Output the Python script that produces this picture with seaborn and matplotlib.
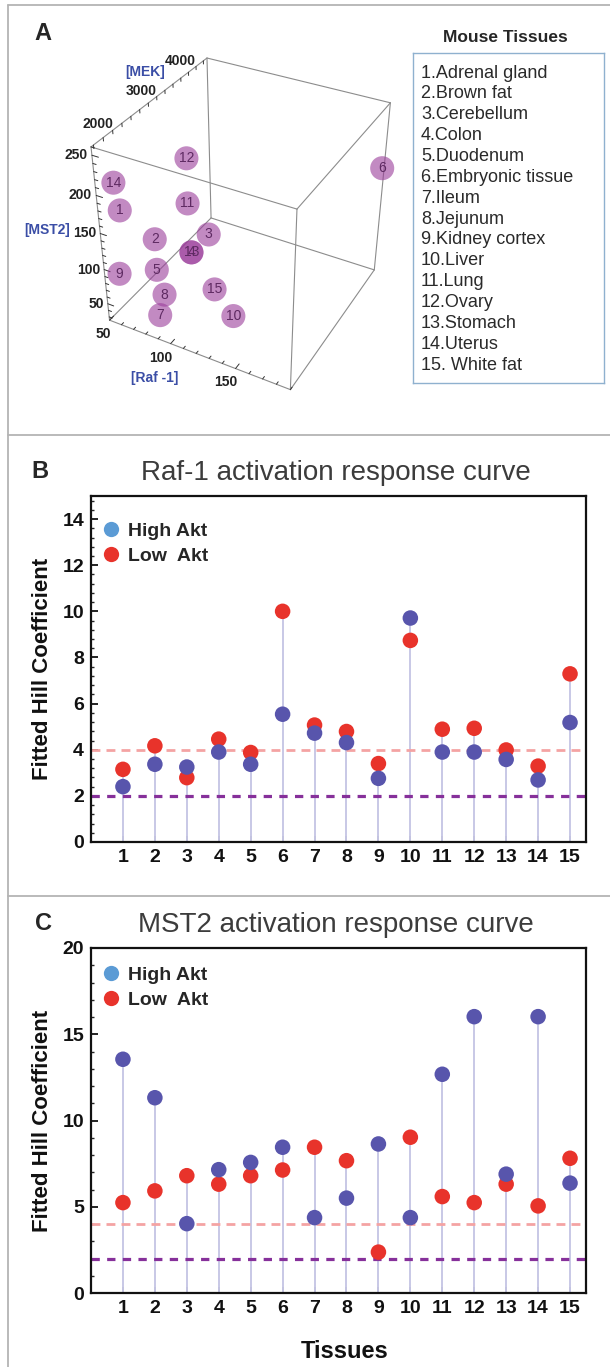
import itertools
import numpy as np
import pandas as pd
import matplotlib
matplotlib.use("Agg")
import matplotlib.pyplot as plt
import seaborn as sns
from matplotlib.ticker import MultipleLocator, FixedLocator
from matplotlib.lines import Line2D
from mpl_toolkits.mplot3d import proj3d

# ---------------- data ----------------
tissue_ids = list(range(1, 16))
tissue_names = ["Adrenal gland", "Brown fat", "Cerebellum", "Colon", "Duodenum",
                "Embryonic tissue", "Ileum", "Jejunum", "Kidney cortex", "Liver",
                "Lung", "Ovary", "Stomach", "Uterus", " White fat"]

# panel A: protein concentrations (estimated)
raf1_conc = [62, 78, 107, 102, 78, 189, 88, 88, 57, 141, 96, 92, 102, 59, 123]
mst2_conc = [180, 136, 137, 125, 93, 175, 50, 72, 90, 77, 180, 229, 125, 214, 94]
mek_conc = [1590, 1860, 2270, 1990, 1860, 4180, 1590, 1720, 1590, 1720, 2130, 2270, 1990, 1590, 1860]
raf1_ticks = [50, 100, 150]
mst2_ticks = [50, 100, 150, 200, 250]
mek_ticks = [2000, 3000, 4000]

# panel B: Raf-1 activation response curve
raf_high = [2.40, 3.37, 3.25, 3.90, 3.37, 5.54, 4.72, 4.31, 2.76, 9.71, 3.90, 3.90, 3.58, 2.69, 5.18]
raf_low = [3.15, 4.17, 2.79, 4.46, 3.88, 10.0, 5.07, 4.79, 3.40, 8.74, 4.89, 4.93, 3.99, 3.29, 7.29]

# panel C: MST2 activation response curve
mst2_high = [13.55, 11.32, 4.02, 7.15, 7.57, 8.45, 4.37, 5.50, 8.64, 4.37, 12.68, 16.02, 6.89, 16.02, 6.37]
mst2_low = [5.24, 5.92, 6.80, 6.31, 6.80, 7.13, 8.45, 7.67, 2.37, 9.03, 5.59, 5.24, 6.31, 5.05, 7.81]

ref_lines = [4, 2]

# ---------------- style ----------------
sns.set_theme(style="white")
plt.rcParams["font.family"] = ["Liberation Sans", "DejaVu Sans"]

W, H = 610, 1367
fig = plt.figure(figsize=(W / 100, H / 100), dpi=100)
fig.patch.set_facecolor("white")


def fx(px):
    return px / W


def fy(py):
    return 1 - py / H


# panel frame lines
for (x0, y0, x1, y1) in [(8, 5, 8, H), (8, 5, W, 5), (8, 435, W, 435), (8, 896, W, 896)]:
    fig.add_artist(Line2D([fx(x0), fx(x1)], [fy(y0), fy(y1)], transform=fig.transFigure,
                          color="#b4b4b4", lw=1.3))

# ---------------- panel A ----------------
ax3 = fig.add_axes([0.0443, 0.679, 0.70, 0.32], projection="3d", computed_zorder=False)
ax3.set_proj_type("persp", focal_length=0.42)
ax3.view_init(elev=35, azim=-61.5)
xlo, xhi = 50, 190
ylo, yhi = 1450, 4200
zlo, zhi = 25, 260
ax3.set_xlim(xlo, xhi)
ax3.set_ylim(ylo, yhi)
ax3.set_zlim(zlo, zhi)
ax3.set_box_aspect((1, 1, 1.0), zoom=0.815)
ax3.set_axis_off()
ax3.set_facecolor("none")

corners = list(itertools.product([xlo, xhi], [ylo, yhi], [zlo, zhi]))
for a, b in itertools.combinations(corners, 2):
    if sum(u != v for u, v in zip(a, b)) == 1:
        ax3.plot([a[0], b[0]], [a[1], b[1]], [a[2], b[2]], color="#8c8c8c", lw=0.8, zorder=1)

# ticks on the box edges
xr, yr, zr = xhi - xlo, yhi - ylo, zhi - zlo
for z in range(30, 261, 10):
    L = 0.035 if z % 50 == 0 else 0.018
    ax3.plot([xlo, xlo + L * xr], [ylo, ylo], [z, z], color="#333333", lw=0.7, zorder=1)
for y in range(1500, 4201, 200):
    L = 0.035 if y % 1000 == 0 else 0.018
    ax3.plot([xlo, xlo], [y, y], [zhi, zhi - L * zr], color="#333333", lw=0.7, zorder=1)
for x in range(50, 191, 10):
    L = 0.035 if x % 50 == 0 else 0.018
    ax3.plot([x, x], [ylo, ylo + L * yr], [zlo, zlo], color="#333333", lw=0.7, zorder=1)

ax3.scatter(raf1_conc, mek_conc, mst2_conc, s=300, color="#9a3c9a", alpha=0.6,
            edgecolors="none", depthshade=False, zorder=3)

# texts placed at the library's own projection of the 3D points
M = ax3.get_proj()


def proj(x, y, z):
    xs, ys, _ = proj3d.proj_transform(np.atleast_1d(x), np.atleast_1d(y), np.atleast_1d(z), M)
    return float(xs[0]), float(ys[0])


tick_kw = dict(fontsize=10, fontweight="bold", color="#222222", textcoords="offset points",
               annotation_clip=False, zorder=5)
for z in mst2_ticks:
    ax3.annotate(f"{z}", xy=proj(xlo, ylo, z), xytext=(-3, 0), ha="right", va="center", **tick_kw)
for y in mek_ticks:
    ax3.annotate(f"{y}", xy=proj(xlo, y, zhi), xytext=(-3, 2), ha="right", va="center", **tick_kw)
for x in raf1_ticks:
    ax3.annotate(f"{x}", xy=proj(x, ylo, zlo), xytext=(1, -5), ha="right", va="top", **tick_kw)

for i, x, y, z in zip(tissue_ids, raf1_conc, mek_conc, mst2_conc):
    ax3.annotate(str(i), xy=proj(x, y, z), ha="center", va="center", fontsize=10,
                 color="#5e2a62", annotation_clip=False, zorder=4)

lab_kw = dict(fontsize=10, fontweight="bold", color="#3b4ea6", ha="center", va="center")
fig.text(fx(145), fy(72), "[MEK]", **lab_kw)
fig.text(fx(47), fy(230), "[MST2]", **lab_kw)
fig.text(fx(155), fy(378), "[Raf -1]", **lab_kw)

fig.text(fx(43), fy(33), "A", fontsize=17, fontweight="bold", ha="center", va="center")

# legend box with tissue names
bx0, by0, bx1, by1 = 413, 53, 604, 383
lax = fig.add_axes([fx(bx0), fy(by1), fx(bx1) - fx(bx0), fy(by0) - fy(by1)])
lax.set_xticks([])
lax.set_yticks([])
for sp in lax.spines.values():
    sp.set_color("#8fb1cf")
    sp.set_linewidth(1.0)
lax.set_xlim(bx0, bx1)
lax.set_ylim(by1, by0)
for k, (i, name) in enumerate(zip(tissue_ids, tissue_names)):
    lax.text(bx0 + 8, 73 + k * 20.86, f"{i}.{name}", fontsize=13, color="#2a2a2a",
             ha="left", va="center")
fig.text(fx(505), fy(37), "Mouse Tissues", fontsize=12.5, fontweight="bold",
         ha="center", va="center")


# ---------------- panels B, C ----------------
def hill_panel(rect, high, low, ymax, major, minor, title, letter, letter_xy, leg_y, xlabel=None):
    ax = fig.add_axes(rect)
    df = pd.DataFrame({
        "Tissue": tissue_ids + tissue_ids,
        "Hill": low + high,
        "Akt": ["Low  Akt"] * len(low) + ["High Akt"] * len(high),
    })
    ax.vlines(tissue_ids, 0, np.maximum(high, low), color="#c8c8e6", lw=1.4, zorder=1)
    ax.axhline(ref_lines[0], color="#f4a3a3", lw=2.0, ls=(0, (3.2, 2.2)), zorder=2)
    ax.axhline(ref_lines[1], color="#86309a", lw=2.3, ls=(0, (2.6, 2.3)), zorder=2)
    sns.scatterplot(data=df, x="Tissue", y="Hill", hue="Akt",
                    palette={"High Akt": "#5855ac", "Low  Akt": "#e8332b"},
                    s=125, edgecolor="none", linewidth=0, legend=False, ax=ax, zorder=3)
    ax.set_xlim(0, 15.5)
    ax.set_ylim(0, ymax)
    ax.xaxis.set_major_locator(FixedLocator(tissue_ids))
    ax.yaxis.set_major_locator(MultipleLocator(major))
    ax.yaxis.set_minor_locator(MultipleLocator(minor))
    ax.tick_params(axis="x", direction="in", length=4, width=1.3, pad=5, labelsize=14,
                   colors="#111111", bottom=True)
    ax.tick_params(axis="y", which="major", direction="in", length=5, width=1.3, pad=5,
                   labelsize=14, colors="#111111", left=True)
    ax.tick_params(axis="y", which="minor", direction="in", length=2.5, width=1.0, left=True)
    for lab in ax.get_xticklabels() + ax.get_yticklabels():
        lab.set_fontweight("bold")
    for sp in ax.spines.values():
        sp.set_color("#111111")
        sp.set_linewidth(1.6)
    ax.set_ylabel("Fitted Hill Coefficient", fontsize=16, fontweight="bold", color="#111111")
    ax.yaxis.set_label_coords(-0.077, 0.5)
    if xlabel:
        ax.set_xlabel(xlabel, fontsize=17, fontweight="bold", color="#111111")
        ax.xaxis.set_label_coords(0.513, -0.136)
    else:
        ax.set_xlabel("")
    ax.text(0.495, 1.067, title, transform=ax.transAxes, ha="center", va="center",
            fontsize=20, color="#3c3c3c")
    handles = [Line2D([], [], ls="none", marker="o", markersize=11, color="#5b9bd5", mec="none"),
               Line2D([], [], ls="none", marker="o", markersize=11, color="#e8332b", mec="none")]
    ax.legend(handles, ["High Akt", "Low  Akt"], loc="upper left", bbox_to_anchor=(0.02, leg_y),
              frameon=False, handlelength=1.0, handletextpad=0.4, labelspacing=0.4,
              borderaxespad=0, borderpad=0, prop={"weight": "bold", "size": 14})
    fig.text(fx(letter_xy[0]), fy(letter_xy[1]), letter, fontsize=17, fontweight="bold",
             ha="center", va="center")
    return ax


hill_panel([fx(91), fy(842), fx(586) - fx(91), fy(496) - fy(842)], raf_high, raf_low,
           15, 2, 0.4, "Raf-1 activation response curve", "B", (40, 472), 0.925)
hill_panel([fx(91), fy(1293), fx(586) - fx(91), fy(948) - fy(1293)], mst2_high, mst2_low,
           20, 5, 1, "MST2 activation response curve", "C", (44, 924), 0.948, xlabel="Tissues")

fig.savefig("out.png", dpi=100)
